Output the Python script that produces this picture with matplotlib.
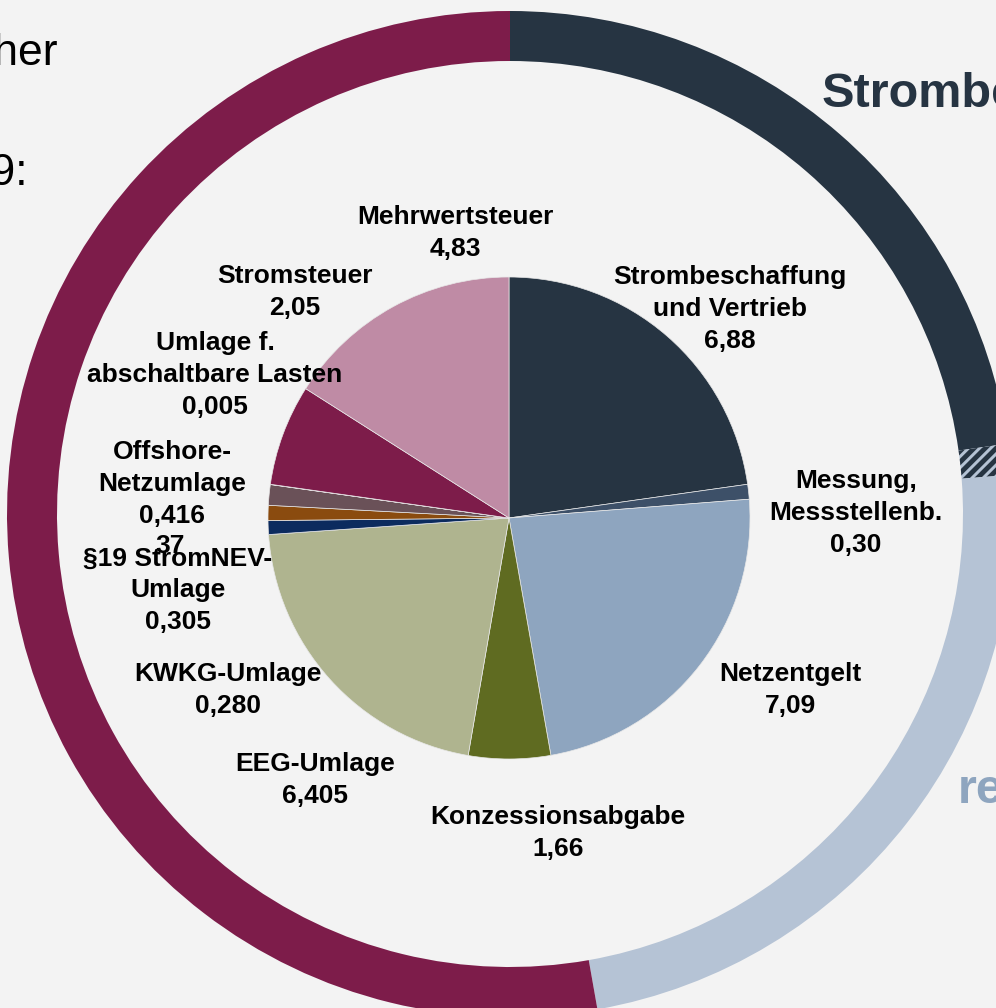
import matplotlib.pyplot as plt
import matplotlib as mpl

# Strompreis 2019 in ct/kWh
labels = ["Strombeschaffung\nund Vertrieb", "Messung,\nMessstellenb.", "Netzentgelt",
          "Konzessionsabgabe", "EEG-Umlage", "KWKG-Umlage", "§19 StromNEV-\nUmlage",
          "Offshore-\nNetzumlage", "Umlage f.\nabschaltbare Lasten", "Stromsteuer",
          "Mehrwertsteuer"]
values = [6.88, 0.30, 7.09, 1.66, 6.405, 0.280, 0.305, 0.416, 0.005, 2.05, 4.83]
value_text = ["6,88", "0,30", "7,09", "1,66", "6,405", "0,280", "0,305", "0,416", "0,005", "2,05", "4,83"]
colors = ["#263442", "#3d5068", "#8ea5bf", "#5f6b21", "#afb48f", "#0c2b5e",
          "#8a4b0f", "#6a5158", "#9a8a90", "#7d1c4a", "#bf8ba5"]

# outer ring: Strombeschaffung, Messung (hatched), Netzentgelt, Steuern/Abgaben/Umlagen
ring_values = [values[0], values[1], values[2], sum(values[3:])]
ring_colors = ["#263442", "#b5c3d5", "#b5c3d5", "#7d1c4a"]

# label positions (pixel coords of the picture)
label_pos = [(730, 309), (856, 513), (790, 690), (558, 833), (315, 780), (228, 690),
             (178, 590), (172, 484), (215, 375), (295, 292), (455, 233)]

W, H = 996, 1008
bg = "#f3f3f3"
mpl.rcParams["hatch.linewidth"] = 3.5

fig = plt.figure(figsize=(W / 100, H / 100), dpi=100, facecolor=bg)
ax = fig.add_axes([0, 0, 1, 1])
ax.set_facecolor(bg)

def Y(y):
    return H - y

# outer ring
wedges, _ = ax.pie(ring_values, colors=ring_colors, startangle=90, counterclock=False,
                   center=(510, Y(514)), radius=503,
                   wedgeprops=dict(width=50, linewidth=0))
wedges[1].set_hatch("///")
wedges[1].set_edgecolor("#263442")
wedges[1].set_linewidth(0)

# inner pie
ax.pie(values, colors=colors, startangle=90, counterclock=False,
       center=(509, Y(518)), radius=241,
       wedgeprops=dict(edgecolor="#e8e8e8", linewidth=0.5))

font = dict(family=["Liberation Sans", "DejaVu Sans"], fontweight="bold")
ax.text(170, Y(546), "37", fontsize=19, ha="center", va="center", color="black", **font)
for lab, val, (x, y) in zip(labels, value_text, label_pos):
    ax.text(x, Y(y), lab + "\n" + val, fontsize=19, ha="center", va="center",
            linespacing=1.4, color="black", **font)

# cut-off texts at the edges
ax.text(58, Y(65), "Durchschnittlicher", fontsize=32, ha="right", va="baseline",
        color="black", family=["Liberation Sans", "DejaVu Sans"])
ax.text(28, Y(185), "Strompreis 2019:", fontsize=32, ha="right", va="baseline",
        color="black", family=["Liberation Sans", "DejaVu Sans"])
ax.text(822, Y(107), "Strombeschaffung", fontsize=35, ha="left", va="baseline",
        color="#263442", **font)
ax.text(958, Y(803), "reguliert", fontsize=35, ha="left", va="baseline",
        color="#8ea5bf", **font)

ax.set_xlim(0, W)
ax.set_ylim(0, H)
ax.set_aspect("equal")
ax.axis("off")

plt.savefig("out.png", dpi=100, facecolor=bg)
plt.close()
